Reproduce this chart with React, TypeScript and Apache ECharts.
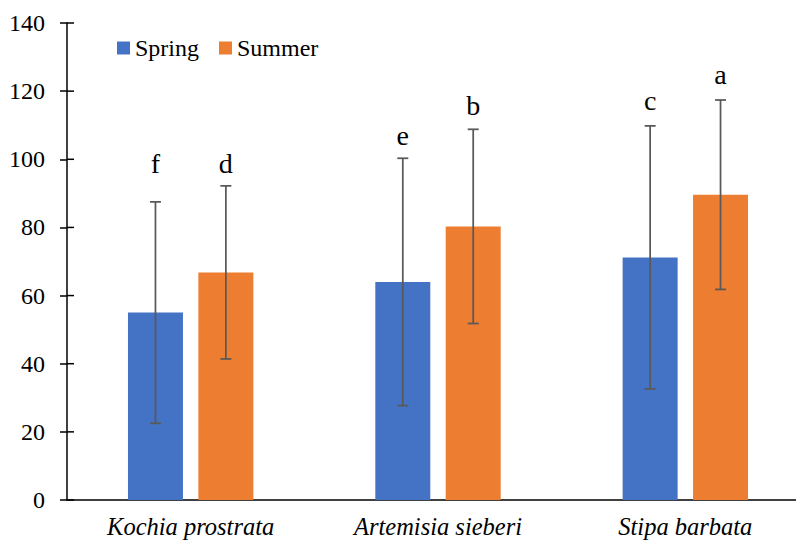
import React, { useEffect, useRef } from "react";
import * as echarts from "echarts";

const categories = ["Kochia prostrata", "Artemisia sieberi", "Stipa barbata"];
const seriesNames = ["Spring", "Summer"];
const springValues = [55, 64, 71.2];
const summerValues = [66.8, 80.3, 89.6];
const springErrors = [32.5, 36.3, 38.6];
const summerErrors = [25.4, 28.5, 27.8];
const springLetters = ["f", "e", "c"];
const summerLetters = ["d", "b", "a"];
const springLetterY = [98.7, 106.9, 117.2];
const summerLetterY = [98.7, 115.7, 124.8];
const yTicks = { min: 0, max: 140, interval: 20 };

const FONT = "Liberation Serif";
const BAR_W = 55;
const GAP_PCT = 28;
const OFFSET = (BAR_W + (BAR_W * GAP_PCT) / 100) / 2;

export default function App() {
  const ref = useRef<HTMLDivElement>(null);
  useEffect(() => {
    if (!ref.current) return;
    const chart = echarts.init(ref.current, null, { renderer: "svg" });

    const errData = [
      ...springValues.map((v, i) => [i, v, springErrors[i], -1]),
      ...summerValues.map((v, i) => [i, v, summerErrors[i], 1]),
    ];
    const letterData = [
      ...springLetterY.map((v, i) => [i, v, -1, springLetters[i]]),
      ...summerLetterY.map((v, i) => [i, v, 1, summerLetters[i]]),
    ];
    const tickValues: number[] = [];
    for (let t = yTicks.min; t <= yTicks.max; t += yTicks.interval) tickValues.push(t);

    chart.setOption({
      animation: false,
      textStyle: { fontFamily: FONT },
      grid: { left: 67, right: -13, top: 23, bottom: 42, containLabel: false, outerBoundsMode: "none" },
      legend: {
        left: 112,
        top: 31,
        itemWidth: 13,
        itemHeight: 13,
        itemGap: 20,
        icon: "rect",
        textStyle: { fontFamily: FONT, fontSize: 24, color: "#000" },
        data: seriesNames,
      },
      xAxis: {
        type: "category",
        data: categories,
        axisLine: { show: true, lineStyle: { color: "#000", width: 1.5 } },
        axisTick: { show: false },
        axisLabel: {
          fontFamily: FONT,
          fontSize: 24.5,
          fontStyle: "italic",
          color: "#000",
          margin: 14,
        },
      },
      yAxis: {
        type: "value",
        min: yTicks.min,
        max: yTicks.max,
        interval: yTicks.interval,
        axisLine: { show: true, lineStyle: { color: "#000", width: 1.5 } },
        axisTick: { show: true, length: 7, lineStyle: { color: "#000", width: 1.5 } },
        splitLine: { show: false },
        axisLabel: {
          show: true,
          fontFamily: FONT,
          fontSize: 24,
          color: "#000",
          margin: 22,
        },
      },
      series: [
        {
          name: seriesNames[0],
          type: "bar",
          data: springValues,
          barWidth: BAR_W,
          barGap: GAP_PCT + "%",
          itemStyle: { color: "#4472C4" },
        },
        {
          name: seriesNames[1],
          type: "bar",
          data: summerValues,
          barWidth: BAR_W,
          barGap: GAP_PCT + "%",
          itemStyle: { color: "#ED7D31" },
        },
        {
          type: "custom",
          data: tickValues.map((t) => [0, t]),
          z: 12,
          silent: true,
          renderItem: (params: any, api: any) => {
            const p = api.coord([0, api.value(1)]);
            const x0 = params.coordSys.x;
            return {
              type: "line",
              shape: { x1: x0, y1: p[1], x2: x0 + 7, y2: p[1] },
              style: { stroke: "#000", lineWidth: 1.5 },
            };
          },
        },
        {
          type: "custom",
          data: errData,
          z: 10,
          renderItem: (params: any, api: any) => {
            const idx = api.value(0);
            const v = api.value(1);
            const e = api.value(2);
            const side = api.value(3);
            const top = api.coord([idx, v + e]);
            const bot = api.coord([idx, v - e]);
            const x = top[0] + side * OFFSET;
            const cap = 5.5;
            const style = { stroke: "#595959", lineWidth: 1.75, fill: "none" };
            return {
              type: "group",
              children: [
                { type: "line", shape: { x1: x, y1: top[1], x2: x, y2: bot[1] }, style },
                { type: "line", shape: { x1: x - cap, y1: top[1], x2: x + cap, y2: top[1] }, style },
                { type: "line", shape: { x1: x - cap, y1: bot[1], x2: x + cap, y2: bot[1] }, style },
              ],
            };
          },
        },
        {
          type: "custom",
          data: letterData,
          z: 11,
          renderItem: (params: any, api: any) => {
            const idx = api.value(0);
            const v = api.value(1);
            const side = api.value(2);
            const letter = letterData[params.dataIndex][3];
            const p = api.coord([idx, v]);
            return {
              type: "text",
              x: p[0] + side * OFFSET,
              y: p[1],
              style: {
                text: letter,
                fontFamily: FONT,
                fontSize: 28,
                fill: "#000",
                align: "center",
                verticalAlign: "middle",
              },
            };
          },
        },
      ],
    });
    return () => chart.dispose();
  }, []);
  return <div ref={ref} style={{ width: 796, height: 542, position: "absolute", left: 0, top: 0 }} />;
}
